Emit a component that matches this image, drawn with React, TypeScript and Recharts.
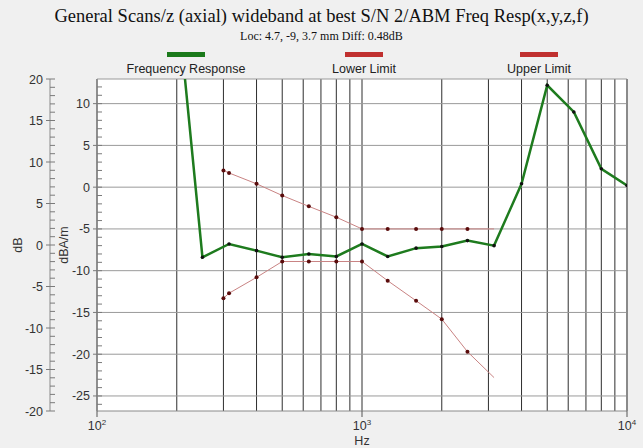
import React from 'react';
import { ComposedChart, Line, XAxis, YAxis, ReferenceLine, CartesianGrid } from 'recharts';

const title = 'General Scans/z (axial) wideband at best S/N 2/ABM Freq Resp(x,y,z,f)';
const subtitle = 'Loc: 4.7, -9, 3.7 mm Diff: 0.48dB';
const legendNames = ['Frequency Response', 'Lower Limit', 'Upper Limit'];
const legendColors = ['#1b7a1b', '#c0302f', '#c0302f'];
const legendCenters = [186, 364, 539];

// Frequency response (dBA/m)
const responseHz = [200, 250, 315, 400, 500, 630, 800, 1000, 1250, 1600, 2000, 2500, 3150, 4000, 5000, 6300, 8000, 10000];
const responseVal = [23, -8.4, -6.8, -7.6, -8.4, -8.0, -8.3, -6.8, -8.3, -7.3, -7.1, -6.4, -7.0, 0.4, 12.2, 9.0, 2.2, 0.2];

// Limits (dBA/m)
const limitHz = [300, 315, 400, 500, 630, 800, 1000, 1250, 1600, 2000, 2500, 3150];
const upperLimitVal = [2.0, 1.7, 0.4, -1.0, -2.3, -3.6, -5, -5, -5, -5, -5, -5];
const lowerLimitVal = [-13.3, -12.7, -10.8, -8.9, -8.9, -8.9, -8.9, -11.2, -13.6, -15.8, -19.7, -22.8];

const xTicks = [100, 200, 300, 400, 500, 600, 700, 800, 900, 1000, 2000, 3000, 4000, 5000, 6000, 7000, 8000, 9000, 10000];
const xLabelTicks = [100, 1000, 10000];
const dbamGridLines = [10, 5, 0, -5, -10, -15, -20, -25];
const dbamDomain = [-26.8, 12.95];
const dbDomain = [-20, 20];

const intRange = (a: number, b: number) => {
  const out: number[] = [];
  for (let v = a; v <= b; v++) out.push(v);
  return out;
};
const dbamTicks = intRange(-26, 12);
const dbTicks = intRange(-20, 20);

const responseData = responseHz.map((hz, i) => ({ hz, v: responseVal[i] }));
const upperData = limitHz.map((hz, i) => ({ hz, v: upperLimitVal[i] }));
const lowerData = limitHz.map((hz, i) => ({ hz, v: lowerLimitVal[i] }));

const SANS = 'Arial, "Liberation Sans", sans-serif';
const SERIF = '"Times New Roman", "Liberation Serif", serif';

const INNER = 'a_dbam';
const OUTER = 'b_db';

const YTick = (props: any) => {
  const { x, y, payload } = props;
  const v = payload.value;
  const major = v % 5 === 0;
  return (
    <g>
      <line x1={major ? x - 4 : x} x2={x + 5} y1={y} y2={y} stroke="#7a7a7a" strokeWidth={1} />
      {major && (
        <text x={x - 7} y={y} dy={4.5} textAnchor="end" fontSize={12.5} fill="#333" fontFamily={SANS}>
          {v}
        </text>
      )}
    </g>
  );
};

const XTick = (props: any) => {
  const { x, y, payload } = props;
  const v = payload.value;
  if (!xLabelTicks.includes(v)) return <g />;
  const exp = Math.round(Math.log10(v));
  return (
    <g>
      <line x1={x} x2={x} y1={y} y2={y + 6} stroke="#555" />
      <text x={x} y={y + 19} textAnchor="middle" fontSize={12.5} fill="#333" fontFamily={SANS}>
        10<tspan dy={-5} fontSize={8}>{exp}</tspan>
      </text>
    </g>
  );
};

const limitDot = (props: any) => {
  const { cx, cy, index } = props;
  if (index === limitHz.length - 1) return <g key={`d${index}`} />;
  return <circle key={`d${index}`} cx={cx} cy={cy} r={2} fill="#5a0c0c" />;
};

const respDot = (props: any) => {
  const { cx, cy, index } = props;
  return <circle key={`r${index}`} cx={cx} cy={cy} r={1.8} fill="#111" />;
};

const axisLabel = (text: string, dx: number) => (p: any) => {
  const vb = p.viewBox;
  const cx = vb.x + dx;
  const cy = vb.y + vb.height / 2;
  return (
    <text x={cx} y={cy} transform={`rotate(-90, ${cx}, ${cy})`} textAnchor="middle" dominantBaseline="central" fontSize={12.5} fill="#333" fontFamily={SANS}>
      {text}
    </text>
  );
};

export default function App() {
  return (
    <div style={{ position: 'absolute', left: 0, top: 0, width: 643, height: 448, background: '#f0f0f0' }}>
      <div style={{ position: 'absolute', left: 0, top: 6, width: 643, textAlign: 'center', fontFamily: SERIF, fontSize: 18.5, color: '#111', whiteSpace: 'nowrap' }}>
        {title}
      </div>
      <div style={{ position: 'absolute', left: 0, top: 29, width: 643, textAlign: 'center', fontFamily: SERIF, fontSize: 12, color: '#111', whiteSpace: 'nowrap' }}>
        {subtitle}
      </div>
      {legendNames.map((n, i) => (
        <React.Fragment key={n}>
          <div style={{ position: 'absolute', left: legendCenters[i] - 19, top: 52, width: 38, height: 5, background: legendColors[i] }} />
          <div style={{ position: 'absolute', left: legendCenters[i] - 80, top: 62, width: 160, textAlign: 'center', fontFamily: SANS, fontSize: 12.5, color: '#222' }}>
            {n}
          </div>
        </React.Fragment>
      ))}
      <div style={{ position: 'absolute', left: 0, top: 0 }}>
        <ComposedChart width={643} height={448} margin={{ top: 79, right: 16, bottom: 0, left: 0 }}>
          <CartesianGrid yAxisId={INNER} fill="#ffffff" horizontal={false} vertical={true} stroke="#2e2e2e" />
          <XAxis
            dataKey="hz"
            type="number"
            scale="log"
            domain={[100, 10000]}
            ticks={xTicks}
            interval={0}
            allowDataOverflow
            height={37}
            tickSize={0}
            tickMargin={0}
            tick={<XTick />}
            stroke="#8a8a8a"
            label={{ value: 'Hz', position: 'insideBottom', offset: 3, fontSize: 12.5, fill: '#333', fontFamily: SANS }}
          />
          <YAxis
            yAxisId={INNER}
            type="number"
            domain={dbamDomain}
            ticks={dbamTicks}
            interval={0}
            allowDataOverflow
            width={47}
            tickSize={0}
            tickMargin={0}
            tick={<YTick />}
            stroke="#8a8a8a"
            label={{ content: axisLabel('dBA/m', 14) } as any}
          />
          <YAxis
            yAxisId={OUTER}
            type="number"
            domain={dbDomain}
            ticks={dbTicks}
            interval={0}
            allowDataOverflow
            width={50}
            tickSize={0}
            tickMargin={0}
            tick={<YTick />}
            stroke="#8a8a8a"
            label={{ content: axisLabel('dB', 18) } as any}
          />
          {dbamGridLines.map((v) => (
            <ReferenceLine key={`h${v}`} yAxisId={INNER} y={v} stroke="#9a9a9a" strokeWidth={1} />
          ))}
          <ReferenceLine yAxisId={INNER} y={dbamDomain[1]} stroke="#9a9a9a" strokeWidth={1} />
          <ReferenceLine yAxisId={INNER} x={10000} stroke="#8a8a8a" strokeWidth={2} />
          <Line
            yAxisId={INNER}
            data={upperData}
            dataKey="v"
            stroke="#c98383"
            strokeWidth={1}
            dot={limitDot}
            isAnimationActive={false}
          />
          <Line
            yAxisId={INNER}
            data={lowerData}
            dataKey="v"
            stroke="#c98383"
            strokeWidth={1}
            dot={limitDot}
            isAnimationActive={false}
          />
          <Line
            yAxisId={INNER}
            data={responseData}
            dataKey="v"
            stroke="#1e7b1e"
            strokeWidth={2.5}
            dot={respDot}
            isAnimationActive={false}
          />
        </ComposedChart>
      </div>
    </div>
  );
}
